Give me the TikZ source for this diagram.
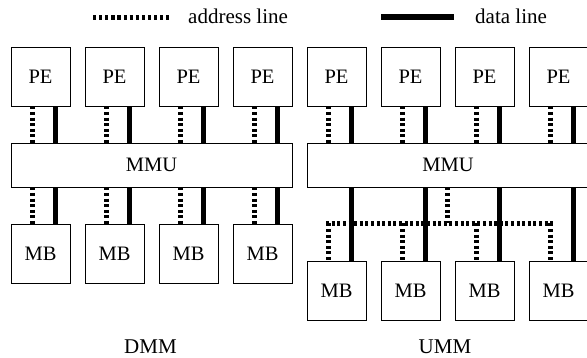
\documentclass[tikz,border=0pt]{standalone}
\usepackage{fontspec}
\setmainfont{Liberation Serif}
\begin{document}
\begin{tikzpicture}[x=1pt,y=-1pt,
  box/.style={draw, line width=0.8pt, fill=white, inner sep=0pt,
    font=\fontsize{20.5}{24}\selectfont},
  sq/.style={box, minimum width=59pt, minimum height=59pt},
  mmu/.style={box, minimum width=281pt, minimum height=44pt},
  lbl/.style={inner sep=0pt, font=\fontsize{21}{25}\selectfont},
  aline/.style={line width=5pt, dash pattern=on 3pt off 2.6pt},
  dline/.style={line width=5pt}]
\useasboundingbox (0,0) rectangle (587,358);
% legend
\coordinate (la1) at (93,17.5);
\coordinate (la2) at (170,17.5);
\draw[aline, dash pattern=on 3.2pt off 2.9pt] (la1) -- (la2);
\node[lbl, anchor=base west] (lat) at (188,24) {address line};
\coordinate (ld1) at (381,17);
\coordinate (ld2) at (454,17);
\draw[line width=6pt] (ld1) -- (ld2);
\node[lbl, anchor=base west] (ldt) at (475,24) {data line};
% DMM
\foreach \i in {0,1,2,3} {
  \node[sq] (dp\i) at ({40.5+74*\i},76.5) {PE};
  \node[sq] (dm\i) at ({40.5+74*\i},253.5) {MB};
}
\node[mmu] (dmmu) at (151.5,165) {MMU};
\foreach \i in {0,1,2,3} {
  \draw[aline] ([xshift=22pt]dp\i.south west) -- ([xshift=22pt]dp\i.south west |- dmmu.north);
  \draw[dline] ([xshift=45pt]dp\i.south west) -- ([xshift=45pt]dp\i.south west |- dmmu.north);
  \draw[aline] ([xshift=22pt]dm\i.north west |- dmmu.south) -- ([xshift=22pt]dm\i.north west);
  \draw[dline] ([xshift=45pt]dm\i.north west |- dmmu.south) -- ([xshift=45pt]dm\i.north west);
}
\node[lbl, anchor=base] (dlab) at (150.5,353.5) {DMM};
% UMM
\foreach \i in {0,1,2,3} {
  \node[sq] (up\i) at ({336.5+74*\i},76.5) {PE};
  \node[sq] (um\i) at ({336.5+74*\i},290.5) {MB};
}
\node[mmu, minimum width=282pt] (ummu) at (448,165) {MMU};
\coordinate (bus) at (447,223.5);
\foreach \i in {0,1,2,3} {
  \draw[aline] ([xshift=22pt]up\i.south west) -- ([xshift=22pt]up\i.south west |- ummu.north);
  \draw[dline] ([xshift=45pt]up\i.south west) -- ([xshift=45pt]up\i.south west |- ummu.north);
  \draw[aline] ([xshift=22pt]um\i.north west |- bus) -- ([xshift=22pt]um\i.north west);
}
\draw[aline] (bus |- ummu.south) -- (bus);
\draw[aline] ([xshift=19.5pt]um0.north west |- bus) -- ([xshift=24.5pt]um3.north west |- bus);
\foreach \i in {0,1,2,3} {
  \draw[dline] ([xshift=45pt]um\i.north west |- ummu.south) -- ([xshift=45pt]um\i.north west);
}
\node[lbl, anchor=base] (ulab) at (445,353.5) {UMM};
\end{tikzpicture}
\end{document}
